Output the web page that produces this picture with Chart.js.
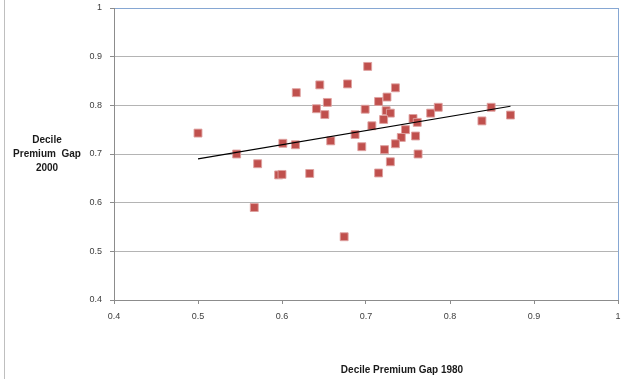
<!DOCTYPE html>
<html>
<head>
<meta charset="utf-8">
<script src="https://cdn.jsdelivr.net/npm/chart.js@4/dist/chart.umd.min.js"></script>
<style>
  html, body { margin: 0; padding: 0; background: #ffffff; }
  #wrap { width: 626px; height: 379px; position: relative; }
</style>
</head>
<body>
<div id="wrap"><canvas id="c" width="626" height="379"></canvas></div>
<script>
// Decile premium gap per observation: 1980 (x) against 2000 (y)
const gap1980 = [
  0.500, 0.546, 0.571, 0.567, 0.596, 0.600, 0.601, 0.616, 0.617, 0.633,
  0.645, 0.641, 0.654, 0.651, 0.658, 0.678, 0.674, 0.702, 0.735, 0.715,
  0.725, 0.699, 0.724, 0.729, 0.721, 0.707, 0.687, 0.695, 0.722, 0.729,
  0.756, 0.761, 0.747, 0.742, 0.735, 0.759, 0.762, 0.777, 0.786, 0.838,
  0.849, 0.872, 0.715
];
const gap2000 = [
  0.743, 0.700, 0.680, 0.590, 0.657, 0.658, 0.722, 0.719, 0.826, 0.660,
  0.842, 0.793, 0.806, 0.781, 0.727, 0.844, 0.530, 0.880, 0.836, 0.808,
  0.817, 0.792, 0.789, 0.784, 0.771, 0.758, 0.740, 0.715, 0.709, 0.684,
  0.773, 0.765, 0.750, 0.734, 0.721, 0.737, 0.700, 0.784, 0.796, 0.768,
  0.796, 0.780, 0.661
];

// Linear trend line end points
const trendX = [0.500, 0.872];
const trendY = [0.690, 0.798];

// Axis ticks
const xTicks = [0.4, 0.5, 0.6, 0.7, 0.8, 0.9, 1];
const xTickLabels = ['0.4', '0.5', '0.6', '0.7', '0.8', '0.9', '1'];
const yTicks = [0.4, 0.5, 0.6, 0.7, 0.8, 0.9, 1];
const yTickLabels = ['0.4', '0.5', '0.6', '0.7', '0.8', '0.9', '1'];

const xTitle = 'Decile Premium Gap 1980';
const yTitleLines = ['Decile', 'Premium  Gap', '2000'];

const FONT = '"Liberation Sans", Arial, sans-serif';
const BORDER_BLUE = '#86A7D3';
const AXIS_GREY = '#8C8C8C';
const GRID_GREY = '#B4B4B4';

const points = gap1980.map((x, i) => ({ x: x, y: gap2000[i] }));
const trend = trendX.map((x, i) => ({ x: x, y: trendY[i] }));

const near = (a, b) => Math.abs(a - b) < 1e-6;

const decorations = {
  id: 'decorations',
  beforeDraw(chart) {
    const ctx = chart.ctx;
    ctx.save();
    ctx.fillStyle = '#ffffff';
    ctx.fillRect(0, 0, chart.width, chart.height);
    // outer frame edge on the left
    ctx.strokeStyle = '#BFBFBF';
    ctx.lineWidth = 1;
    ctx.beginPath();
    ctx.moveTo(4.5, 0);
    ctx.lineTo(4.5, chart.height);
    ctx.stroke();
    ctx.restore();
  },
  afterDraw(chart) {
    const ctx = chart.ctx;
    const area = chart.chartArea;
    ctx.save();
    ctx.fillStyle = '#1a1a1a';
    ctx.font = 'bold 10px ' + FONT;
    ctx.textAlign = 'center';
    ctx.textBaseline = 'middle';
    const cy = (area.top + area.bottom) / 2;
    yTitleLines.forEach((line, i) => {
      ctx.fillText(line, 47, cy + (i - 1) * 14.2);
    });
    ctx.fillText(xTitle, 402, 370);
    ctx.restore();
  }
};

new Chart(document.getElementById('c'), {
  type: 'scatter',
  data: {
    datasets: [
      {
        label: 'Gap',
        data: points,
        pointStyle: 'rect',
        pointRadius: 5.6,
        pointHoverRadius: 5.6,
        backgroundColor: '#C0504D',
        borderColor: 'rgba(222,160,158,0.9)',
        borderWidth: 1,
        order: 2
      },
      {
        label: 'Trend',
        type: 'line',
        data: trend,
        borderColor: '#000000',
        borderWidth: 1.1,
        pointRadius: 0,
        fill: false,
        order: 1
      }
    ]
  },
  options: {
    responsive: false,
    animation: false,
    events: [],
    layout: { padding: { left: 0, top: 8, right: 8, bottom: 0 } },
    plugins: {
      legend: { display: false },
      tooltip: { enabled: false }
    },
    scales: {
      x: {
        type: 'linear',
        min: 0.4,
        max: 1,
        afterBuildTicks: s => { s.ticks = xTicks.map(v => ({ value: v })); },
        afterFit: s => {
          s.height = 79;
          s.paddingLeft = 0;
          s.paddingRight = 0;
        },
        ticks: {
          autoSkip: false,
          maxRotation: 0,
          padding: 7,
          color: '#404040',
          font: { family: FONT, size: 9 },
          callback: (v) => xTickLabels[xTicks.findIndex(t => near(t, v))]
        },
        grid: {
          drawOnChartArea: true,
          drawTicks: true,
          tickLength: 4,
          color: c => (c.tick && near(c.tick.value, 1)) ? BORDER_BLUE : 'rgba(0,0,0,0)',
          tickColor: AXIS_GREY,
          lineWidth: 1
        },
        border: { display: true, color: AXIS_GREY, width: 1 }
      },
      y: {
        type: 'linear',
        min: 0.4,
        max: 1,
        afterBuildTicks: s => { s.ticks = yTicks.map(v => ({ value: v })); },
        afterFit: s => {
          s.width = 114;
          s.paddingTop = 0;
          s.paddingBottom = 0;
        },
        ticks: {
          autoSkip: false,
          padding: 8,
          color: '#404040',
          font: { family: FONT, size: 9 },
          callback: (v) => yTickLabels[yTicks.findIndex(t => near(t, v))]
        },
        grid: {
          drawTicks: true,
          tickLength: 4,
          color: c => {
            if (!c.tick) return GRID_GREY;
            if (near(c.tick.value, 1)) return BORDER_BLUE;
            if (near(c.tick.value, 0.4)) return AXIS_GREY;
            return GRID_GREY;
          },
          tickColor: AXIS_GREY,
          lineWidth: 1
        },
        border: { display: true, color: AXIS_GREY, width: 1 }
      }
    }
  },
  plugins: [decorations]
});
</script>
</body>
</html>
